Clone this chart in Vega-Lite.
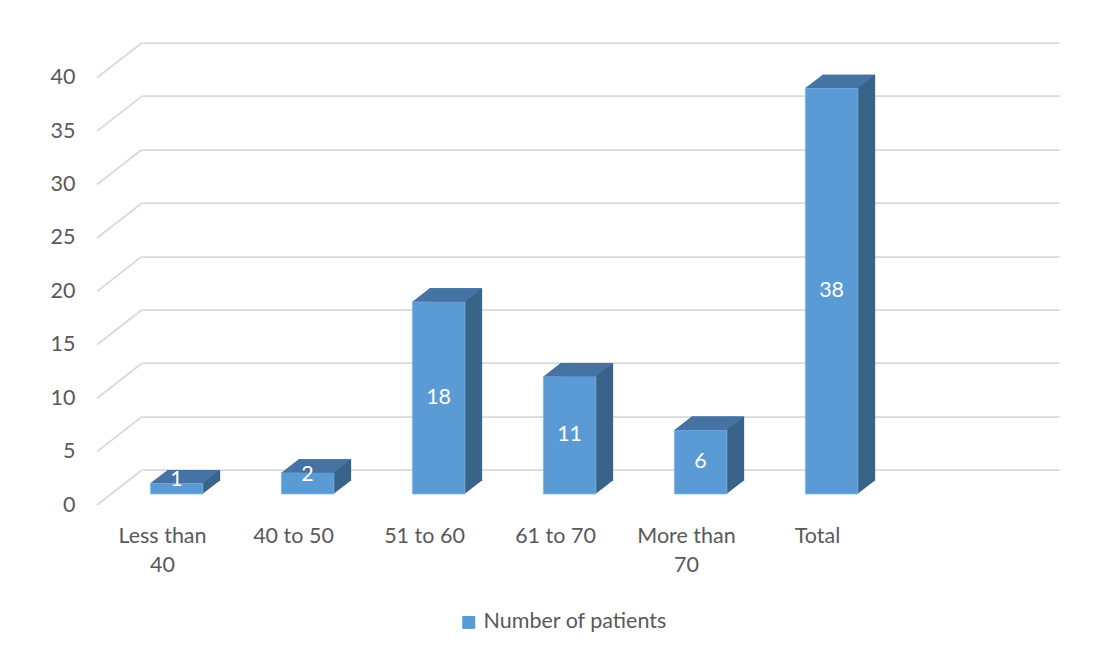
{
  "$schema": "https://vega.github.io/schema/vega-lite/v6.json",
  "width": 917,
  "height": 427.3,
  "autosize": {"type": "none"},
  "padding": {"left": 142, "top": 42.7, "right": 55, "bottom": 187},
  "background": "white",
  "config": {
    "view": {"stroke": null},
    "font": "Lato",
    "axis": {"labelFont": "Lato", "labelFontSize": 21.5, "labelColor": "#595959"},
    "legend": {"labelFont": "Lato", "labelFontSize": 21.5, "labelColor": "#595959", "labelLimit": 0}
  },
  "datasets": {
    "ages": [
      {"group": "Less than 40", "patients": 1},
      {"group": "40 to 50", "patients": 2},
      {"group": "51 to 60", "patients": 18},
      {"group": "61 to 70", "patients": 11},
      {"group": "More than 70", "patients": 6},
      {"group": "Total", "patients": 38}
    ],
    "ticks": [
      {"tick": 0}, {"tick": 5}, {"tick": 10}, {"tick": 15}, {"tick": 20},
      {"tick": 25}, {"tick": 30}, {"tick": 35}, {"tick": 40}
    ]
  },
  "layer": [
    {
      "data": {"name": "ticks"},
      "mark": {"type": "point", "shape": "M-65.5,0L-110.5,35", "size": 4, "filled": false, "stroke": "#d9d9d9", "strokeWidth": 1.8, "opacity": 1},
      "encoding": {
        "x": {
          "datum": "Less than 40", "type": "nominal",
          "scale": {"domain": ["Less than 40", "40 to 50", "51 to 60", "61 to 70", "More than 70", "Total", " "], "paddingInner": 0, "paddingOuter": 0},
          "axis": {
            "title": null, "domain": false, "ticks": false, "tickSize": 0, "labelAngle": 0,
            "labelOffset": -45, "labelPadding": 55, "labelBaseline": "top", "labelLineHeight": 29,
            "labelExpr": "datum.label == 'Less than 40' ? ['Less than', '40'] : datum.label == 'More than 70' ? ['More than', '70'] : datum.label"
          }
        },
        "y": {
          "field": "tick", "type": "quantitative",
          "scale": {"domain": [0, 40], "nice": false, "zero": true},
          "axis": {
            "title": null, "values": [0, 5, 10, 15, 20, 25, 30, 35, 40], "domain": false, "ticks": false, "tickSize": 0,
            "labelPadding": 67, "labelOffset": 35, "grid": true, "gridColor": "#d9d9d9", "gridWidth": 1.8
          }
        }
      }
    },
    {
      "data": {"name": "ages"},
      "mark": {"type": "bar", "width": 52.5, "xOffset": -13.6, "yOffset": 10.6, "y2Offset": 10.6, "color": "#3A638A"},
      "encoding": {
        "x": {"field": "group", "type": "nominal"},
        "y": {"field": "patients", "type": "quantitative"},
        "y2": {"datum": 0}
      }
    },
    {
      "data": {"name": "ages"},
      "mark": {"type": "point", "shape": "M25.5,-14L25.5,0.2L44,-14Z", "size": 4, "filled": true, "fill": "#3A638A", "strokeWidth": 0, "opacity": 1, "xOffset": -30.9, "yOffset": 24},
      "encoding": {
        "x": {"field": "group", "type": "nominal"},
        "y": {"datum": 0, "type": "quantitative"}
      }
    },
    {
      "data": {"name": "ages"},
      "mark": {"type": "bar", "width": 52.5, "xOffset": -30.9, "yOffset": 24, "y2Offset": 24, "stroke": "#8AB6E2", "strokeWidth": 0.7},
      "encoding": {
        "x": {"field": "group", "type": "nominal"},
        "y": {"field": "patients", "type": "quantitative"},
        "y2": {"datum": 0},
        "color": {
          "datum": "Number of patients", "type": "nominal",
          "scale": {"range": ["#5B9BD5"]},
          "legend": {"title": null, "orient": "none", "legendX": 316, "legendY": 569, "symbolType": "square", "symbolSize": 169, "symbolStrokeWidth": 0, "labelOffset": 4}
        }
      }
    },
    {
      "data": {"name": "ages"},
      "mark": {"type": "point", "shape": "M-26.25,0L26.25,0L43.55,-13.4L-8.95,-13.4Z", "size": 4, "filled": true, "fill": "#4573A3", "strokeWidth": 0, "opacity": 1, "xOffset": -30.9, "yOffset": 24},
      "encoding": {
        "x": {"field": "group", "type": "nominal"},
        "y": {"field": "patients", "type": "quantitative"}
      }
    },
    {
      "data": {"name": "ages"},
      "transform": [{"calculate": "datum.patients < 5 ? datum.patients / 2 + 0.8 : datum.patients / 2", "as": "labelPos"}],
      "mark": {"type": "text", "color": "white", "fontSize": 21.5, "font": "Lato", "baseline": "middle", "align": "center", "xOffset": -30.9, "yOffset": 24},
      "encoding": {
        "x": {"field": "group", "type": "nominal"},
        "y": {"field": "labelPos", "type": "quantitative"},
        "text": {"field": "patients", "type": "quantitative"}
      }
    }
  ]
}
